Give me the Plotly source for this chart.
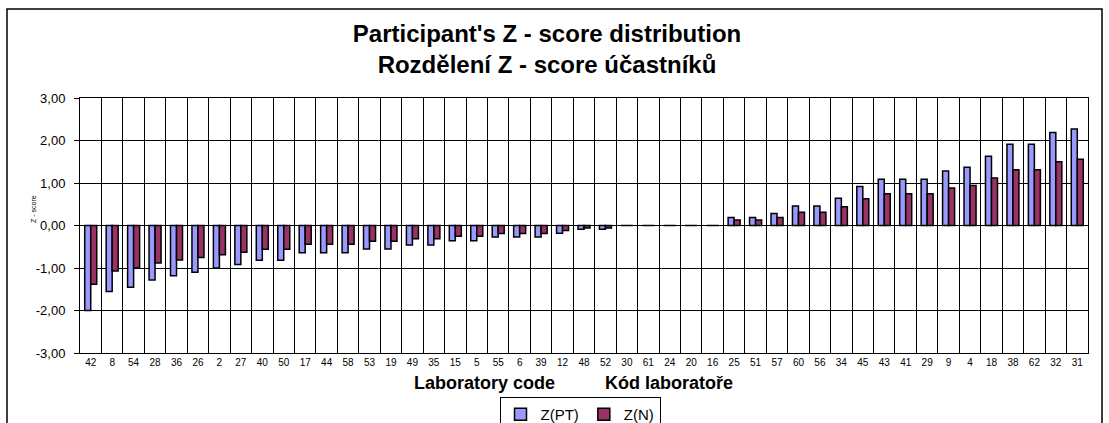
import plotly.graph_objects as go

lab_codes = ["42", "8", "54", "28", "36", "26", "2", "27", "40", "50",
             "17", "44", "58", "53", "19", "49", "35", "15", "5", "55",
             "6", "39", "12", "48", "52", "30", "61", "24", "20", "16",
             "25", "51", "57", "60", "56", "34", "45", "43", "41", "29",
             "9", "4", "18", "38", "62", "32", "31"]

z_pt = [-2.00, -1.55, -1.45, -1.28, -1.18, -1.10, -1.00, -0.92, -0.82, -0.82,
        -0.64, -0.64, -0.64, -0.55, -0.55, -0.46, -0.46, -0.36, -0.36, -0.27,
        -0.27, -0.27, -0.18, -0.09, -0.09, 0.0, 0.0, 0.0, 0.0, 0.0,
        0.19, 0.19, 0.28, 0.46, 0.46, 0.64, 0.92, 1.09, 1.09, 1.09,
        1.28, 1.37, 1.63, 1.91, 1.91, 2.19, 2.27]

z_n = [-1.38, -1.07, -1.00, -0.88, -0.81, -0.75, -0.69, -0.63, -0.56, -0.56,
       -0.44, -0.44, -0.44, -0.37, -0.37, -0.31, -0.31, -0.25, -0.25, -0.19,
       -0.19, -0.19, -0.12, -0.06, -0.06, 0.0, 0.0, 0.0, 0.0, 0.0,
       0.13, 0.13, 0.19, 0.31, 0.31, 0.44, 0.63, 0.75, 0.75, 0.75,
       0.88, 0.94, 1.12, 1.31, 1.31, 1.50, 1.56]

y_ticks = [-3, -2, -1, 0, 1, 2, 3]
y_tick_text = [f"{v:.2f}".replace(".", ",") for v in y_ticks]

font_family = "Liberation Sans, Arial, sans-serif"

fig = go.Figure()
fig.add_trace(go.Bar(x=lab_codes, y=z_pt, name="Z(PT)",
                     marker=dict(color="#9999FF", line=dict(color="black", width=1.5))))
fig.add_trace(go.Bar(x=lab_codes, y=z_n, name="Z(N)",
                     marker=dict(color="#993366", line=dict(color="black", width=1.5))))

W, H = 1109, 423
L, R, T, B = 80, 1088, 98, 353
pw, ph = R - L, B - T

def px(x):
    return (x - L) / pw

def py(y):
    return (B - y) / ph

fig.update_layout(
    width=W, height=H,
    margin=dict(l=L, r=W - R, t=T, b=H - B, autoexpand=False),
    paper_bgcolor="white", plot_bgcolor="white",
    barmode="group", bargap=0.44, bargroupgap=0.0,
    font=dict(family=font_family, color="black"),
    title=dict(text="<b>Participant's Z - score distribution</b><br><b>Rozdělení Z - score účastníků</b>",
               font=dict(size=24, family=font_family, color="black"),
               x=547 / W, xanchor="center", xref="container",
               y=1 - 42 / H, yanchor="middle", yref="container"),
    xaxis=dict(type="category", tickson="boundaries", showgrid=True,
               gridcolor="black", gridwidth=1, showline=True, mirror=True,
               linecolor="black", linewidth=1, ticks="", tickangle=0,
               tickfont=dict(size=10, family=font_family, color="black")),
    yaxis=dict(range=[-3, 3], tickvals=y_ticks, ticktext=y_tick_text,
               showgrid=True, gridcolor="black", gridwidth=1,
               zeroline=True, zerolinecolor="black", zerolinewidth=1,
               showline=True, mirror=True, linecolor="black", linewidth=1,
               ticks="outside", ticklen=5, tickcolor="black",
               ticklabelstandoff=6,
               tickfont=dict(size=13, family=font_family, color="black")),
    showlegend=True,
    legend=dict(orientation="h", xref="container", yref="container",
                x=580 / W, xanchor="center", y=1 - 397 / H, yanchor="top",
                bordercolor="black", borderwidth=1, bgcolor="white",
                font=dict(size=15, family=font_family, color="black"),
                itemwidth=30, traceorder="normal", tracegroupgap=0),
)

# chart frame
fig.add_shape(type="rect", xref="paper", yref="paper",
              x0=px(7), x1=px(1102), y0=py(440), y1=py(9),
              line=dict(color="black", width=1.5), layer="below")

# axis titles
fig.add_annotation(text="<b>Laboratory code</b>", xref="paper", yref="paper",
                   x=px(484), y=py(383), xanchor="center", yanchor="middle",
                   showarrow=False, font=dict(size=18, family=font_family, color="black"))
fig.add_annotation(text="<b>Kód laboratoře</b>", xref="paper", yref="paper",
                   x=px(669), y=py(383), xanchor="center", yanchor="middle",
                   showarrow=False, font=dict(size=18, family=font_family, color="black"))
fig.add_annotation(text="Z - score", xref="paper", yref="paper",
                   x=px(33), y=py(209), xanchor="center", yanchor="middle",
                   textangle=-90, showarrow=False,
                   font=dict(size=7, family=font_family, color="black"))

fig.write_html("out.html", config={"displayModeBar": False},
               post_script="document.body.style.margin='0px';")
